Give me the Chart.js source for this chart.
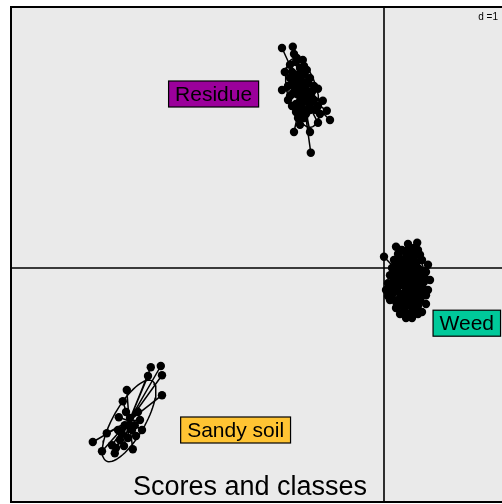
<!DOCTYPE html>
<html>
<head>
<meta charset="utf-8">
<script src="https://cdn.jsdelivr.net/npm/chart.js@4"></script>
<style>
  html, body { margin: 0; padding: 0; background: #ffffff; overflow: hidden; }
  #wrap { width: 502px; height: 504px; position: relative; }
</style>
</head>
<body>
<div id="wrap"><canvas id="scoresCanvas"></canvas></div>
<script>
// row scores of each class (axis 1, axis 2)
const residueScores = [
  [-2.55, 5.50], [-2.28, 5.53], [-2.25, 5.35], [-2.18, 5.25], [-2.03, 5.20],
  [-2.48, 4.90], [-1.93, 4.95], [-2.55, 4.45], [-1.65, 4.48], [-1.53, 4.18],
  [-1.43, 3.93], [-1.35, 3.70], [-1.65, 3.63], [-2.25, 3.40], [-1.85, 3.40],
  [-1.83, 2.88], [-2.35, 5.08], [-2.20, 4.83], [-2.30, 4.58], [-2.10, 4.70],
  [-1.98, 4.50], [-2.15, 4.33], [-1.95, 4.20], [-2.05, 4.00], [-1.85, 3.95],
  [-2.20, 3.90], [-1.75, 4.20], [-2.40, 4.20], [-2.00, 3.75], [-1.80, 4.40],
  [-2.10, 3.58], [-2.25, 4.70], [-2.10, 5.00], [-2.00, 4.85], [-2.30, 4.90],
  [-2.15, 4.60], [-1.90, 4.65], [-2.05, 4.45], [-2.25, 4.40], [-1.90, 4.35],
  [-2.10, 4.15], [-1.85, 4.10], [-2.30, 4.05], [-1.95, 3.85], [-2.15, 3.75],
  [-1.70, 3.95], [-2.40, 4.55], [-1.75, 4.55], [-2.20, 5.15], [-2.00, 5.05],
  [-2.35, 4.75], [-1.85, 4.75], [-2.15, 4.50], [-1.95, 4.55], [-2.35, 4.30],
  [-1.80, 4.25], [-2.00, 4.30], [-2.20, 4.10], [-1.90, 3.95], [-2.05, 3.85],
  [-1.65, 4.05], [-1.60, 3.85], [-2.25, 4.65]
];
const weedScores = [
  [0.00, 0.28], [0.30, 0.53], [0.45, 0.45], [0.60, 0.60], [0.83, 0.63],
  [0.70, 0.40], [0.90, 0.33], [1.10, 0.08], [1.15, -0.30], [1.05, -0.68],
  [0.95, -1.10], [0.70, -1.25], [0.40, -0.93], [0.20, -0.68], [0.10, -0.38],
  [0.05, -0.55], [0.28, 0.08], [0.53, 0.15], [0.65, -0.05], [0.78, -0.18],
  [0.48, -0.25], [0.70, -0.43], [0.85, -0.55], [0.55, -0.60], [0.40, -0.43],
  [0.75, -0.80], [0.60, -0.93], [0.90, -0.05], [0.35, -0.10], [0.65, 0.25],
  [0.80, 0.15], [0.50, -0.75], [0.90, -0.80], [1.00, -0.35], [0.25, -0.30],
  [0.40, 0.20], [0.20, 0.00], [1.05, -0.10], [0.30, -0.55], [0.80, -1.05],
  [0.50, -1.10], [1.10, -0.55], [0.15, -0.18], [0.95, 0.20], [0.65, -0.68],
  [0.75, 0.50], [0.35, 0.35], [0.55, 0.40], [0.70, 0.15], [0.85, 0.00],
  [0.60, 0.00], [0.45, -0.05], [0.30, -0.20], [0.50, -0.40], [0.65, -0.30],
  [0.80, -0.35], [0.95, -0.45], [0.40, -0.65], [0.55, -0.85], [0.70, -0.95],
  [0.85, -0.95], [0.60, -1.15], [0.35, -0.80], [0.20, -0.45], [0.95, -0.70],
  [1.00, -0.20], [0.75, -0.65], [0.45, 0.05], [0.60, 0.45], [0.85, 0.45],
  [0.25, 0.20], [0.15, -0.80], [0.85, -1.15], [0.55, -1.25], [0.30, -1.00],
  [1.05, -0.90], [0.25, -0.10], [0.45, -0.15], [0.60, -0.20], [0.75, -0.05],
  [0.90, -0.25], [0.35, -0.35], [0.55, -0.50], [0.70, -0.55], [0.85, -0.70],
  [0.45, -0.85], [0.65, -0.80], [0.80, -0.85], [0.70, -1.10], [0.50, -1.00],
  [0.40, -1.15], [0.55, 0.25], [0.75, 0.30], [0.40, 0.45], [1.00, -0.55],
  [0.30, -0.85], [0.20, -0.55], [0.10, -0.70]
];
const sandyScores = [
  [-5.58, -2.45], [-5.83, -2.48], [-5.55, -2.68], [-5.90, -2.70], [-6.43, -3.05],
  [-5.55, -3.18], [-6.53, -3.33], [-6.63, -3.73], [-7.28, -4.35], [-7.05, -4.58],
  [-6.73, -4.63], [-6.28, -4.53], [-6.93, -4.13], [-6.05, -4.05], [-6.48, -3.93],
  [-6.35, -3.75], [-6.60, -4.30], [-6.80, -4.43], [-6.23, -3.93], [-6.10, -3.80],
  [-6.65, -4.05], [-6.40, -4.25], [-6.55, -4.15], [-6.30, -4.05], [-6.45, -3.60],
  [-6.20, -4.20], [-6.70, -4.50], [-6.50, -4.45], [-6.15, -3.60]
];

const classNames = ["Residue", "Weed", "Sandy soil"];
const classColors = ["#9b009b", "#00c99a", "#ffc433"];
// where each class label sits
const labelPos = [[-4.26, 4.35], [2.07, -1.38], [-3.71, -4.05]];

const xLimits = [-9.325, 2.95];
const yLimits = [-5.85, 6.525];
const gridStep = 1;

const classes = [residueScores, weedScores, sandyScores];

function toXY(arr) {
  return arr.map((p) => ({ x: p[0], y: p[1] }));
}

function centroid(arr) {
  let sx = 0, sy = 0;
  arr.forEach((p) => { sx += p[0]; sy += p[1]; });
  return { x: sx / arr.length, y: sy / arr.length };
}

// star: every point joined to its class mean
function starLines(arr) {
  const c = centroid(arr);
  const out = [];
  arr.forEach((p) => { out.push({ x: p[0], y: p[1] }); out.push(c); });
  return out;
}

// inertia ellipse, k standard deviations
function ellipseOutline(arr, k) {
  const c = centroid(arr);
  let vxx = 0, vyy = 0, vxy = 0;
  arr.forEach((p) => {
    const dx = p[0] - c.x, dy = p[1] - c.y;
    vxx += dx * dx; vyy += dy * dy; vxy += dx * dy;
  });
  vxx /= arr.length; vyy /= arr.length; vxy /= arr.length;
  const tr = vxx + vyy, det = vxx * vyy - vxy * vxy;
  const l1 = tr / 2 + Math.sqrt(tr * tr / 4 - det);
  const l2 = tr / 2 - Math.sqrt(tr * tr / 4 - det);
  const ang = Math.atan2(l1 - vxx, vxy);
  const a = k * Math.sqrt(l1), b = k * Math.sqrt(Math.max(l2, 0));
  const out = [];
  for (let i = 0; i <= 72; i++) {
    const t = (i / 72) * 2 * Math.PI;
    const ex = a * Math.cos(t), ey = b * Math.sin(t);
    out.push({
      x: c.x + ex * Math.cos(ang) - ey * Math.sin(ang),
      y: c.y + ex * Math.sin(ang) + ey * Math.cos(ang),
    });
  }
  return out;
}

const datasets = [];
classes.forEach((arr, i) => {
  datasets.push({
    label: classNames[i] + " stars",
    data: starLines(arr),
    showLine: true,
    borderColor: "#000000",
    borderWidth: 1.5,
    pointRadius: 0,
    tension: 0,
  });
  datasets.push({
    label: classNames[i] + " ellipse",
    data: ellipseOutline(arr, 1.6),
    showLine: true,
    borderColor: "#000000",
    borderWidth: 1.5,
    pointRadius: 0,
    tension: 0,
  });
  datasets.push({
    label: classNames[i],
    data: toXY(arr),
    pointRadius: 4.2,
    pointBackgroundColor: "#000000",
    pointBorderWidth: 0,
  });
});

const panelPlugin = {
  id: "panel",
  beforeDatasetsDraw(chart) {
    const { ctx, chartArea: a, scales } = chart;
    ctx.save();
    ctx.fillStyle = "#eaeaea";
    ctx.fillRect(a.left, a.top, a.right - a.left, a.bottom - a.top);
    // axes through the origin
    const x0 = scales.x.getPixelForValue(0);
    const y0 = scales.y.getPixelForValue(0);
    ctx.strokeStyle = "#000000";
    ctx.lineWidth = 1.6;
    ctx.beginPath();
    ctx.moveTo(x0, a.top); ctx.lineTo(x0, a.bottom);
    ctx.moveTo(a.left, y0); ctx.lineTo(a.right + 2, y0);
    ctx.stroke();
    ctx.restore();
  },
  afterDatasetsDraw(chart) {
    const { ctx, chartArea: a, scales } = chart;
    ctx.save();
    // class labels
    ctx.font = "21px 'Liberation Sans', Arial, sans-serif";
    ctx.textAlign = "center";
    ctx.textBaseline = "middle";
    classNames.forEach((name, i) => {
      const px = scales.x.getPixelForValue(labelPos[i][0]);
      const py = scales.y.getPixelForValue(labelPos[i][1]);
      const w = ctx.measureText(name).width + 13;
      const h = 26;
      ctx.fillStyle = classColors[i];
      ctx.fillRect(px - w / 2, py - h / 2, w, h);
      ctx.strokeStyle = "#000000";
      ctx.lineWidth = 1.2;
      ctx.strokeRect(px - w / 2, py - h / 2, w, h);
      ctx.fillStyle = "#000000";
      ctx.fillText(name, px, py + 1);
    });
    // frame (left, top, bottom)
    ctx.strokeStyle = "#000000";
    ctx.lineWidth = 2;
    ctx.beginPath();
    ctx.moveTo(a.right + 2, a.top);
    ctx.lineTo(a.left, a.top);
    ctx.lineTo(a.left, a.bottom);
    ctx.lineTo(a.right + 2, a.bottom);
    ctx.stroke();
    // grid size
    ctx.font = "10px 'Liberation Sans', Arial, sans-serif";
    ctx.textAlign = "right";
    ctx.textBaseline = "middle";
    ctx.fillText("d =" + gridStep, 498, a.top + 10);
    // panel title
    ctx.font = "27px 'Liberation Sans', Arial, sans-serif";
    ctx.textAlign = "center";
    ctx.fillText("Scores and classes", 250, 488);
    ctx.restore();
  },
};

new Chart(document.getElementById("scoresCanvas"), {
  type: "scatter",
  data: { datasets },
  options: {
    responsive: true,
    maintainAspectRatio: false,
    animation: false,
    layout: { autoPadding: false, padding: { left: 11, top: 7, right: 0, bottom: 2 } },
    plugins: { legend: { display: false }, tooltip: { enabled: false } },
    scales: {
      x: { type: "linear", display: false, min: xLimits[0], max: xLimits[1] },
      y: { type: "linear", display: false, min: yLimits[0], max: yLimits[1] },
    },
  },
  plugins: [panelPlugin],
});
</script>
</body>
</html>
